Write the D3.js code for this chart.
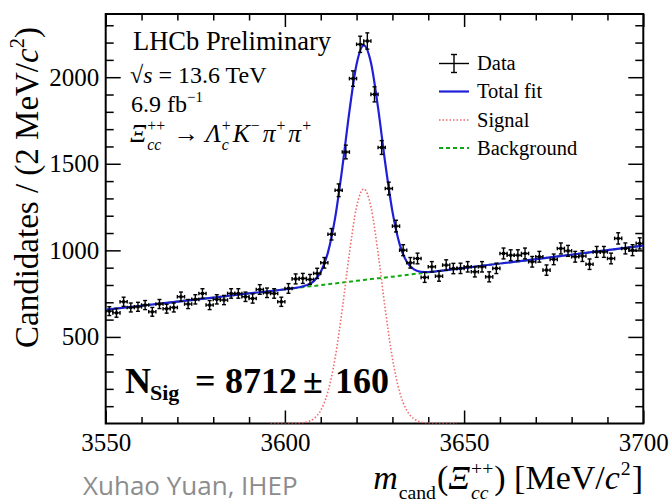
<!DOCTYPE html>
<html>
<head>
<meta charset="utf-8">
<script src="https://cdn.jsdelivr.net/npm/d3@7"></script>
<style>
  body { margin: 0; background: #fff; }
  svg { display: block; }
  svg text { white-space: pre; }
</style>
</head>
<body>
<svg id="chart" width="672" height="502"></svg>
<script>
// ---- data ----
const X_RANGE = [3550, 3700];
const Y_RANGE = [0, 2365];
const BIN_WIDTH = 2;
const binCentres = d3.range(X_RANGE[0] + BIN_WIDTH / 2, X_RANGE[1], BIN_WIDTH);

// candidates per 2 MeV bin
const counts = [
   649,  639,  703,  670,  674,  684,  645,  690,  663,  670,
   732,  690,  717,  751,  684,  717,  713,  751,  751,  732,
   722,  774,  755,  751,  703,  780,  835,  838,  832,  867,
   928, 1093, 1347, 1568, 1992, 2190, 2209, 1901, 1594, 1357,
  1140, 1001,  928,  953,  844,  905,  851,  915,  895,  896,
   905,  876,  905,  847,  896,  982,  972,  972,  982,  934,
   963,  886,  948, 1011,  997,  963,  967,  920,  991,  991,
   953, 1069, 1011, 1001, 1040
];

// fit components, sampled along the mass axis
const fitMass = [3550, 3560, 3570, 3580, 3590, 3596, 3600, 3602, 3604, 3606,
                 3608, 3610, 3612, 3614, 3616, 3618, 3620, 3622, 3624, 3626,
                 3628, 3630, 3632, 3634, 3636, 3638, 3640, 3642, 3644, 3648,
                 3656, 3665, 3675, 3685, 3700];
const backgroundFit = [657, 680, 704, 727, 751, 765, 775, 780, 785, 790,
                       794, 799, 804, 809, 814, 819, 824, 829, 834, 839,
                       843, 848, 853, 858, 863, 868, 873, 878, 883, 893,
                       914, 936, 962, 988, 1027];
const signalFit = [0, 0, 0, 0, 0, 0, 0, 0, 2, 8,
                   27, 76, 183, 377, 660, 984, 1251, 1355, 1251, 984,
                   660, 377, 183, 76, 27, 8, 2, 0, 0, 0,
                   0, 0, 0, 0, 0];

const xMajor = [3550, 3600, 3650, 3700];
const yMajor = [500, 1000, 1500, 2000];
const legendLabels = ['Data', 'Total fit', 'Signal', 'Background'];

// ---- drawing ----
const SERIF = '"Liberation Serif", "Times New Roman", serif';
const COLORS = { total: '#1f1fd8', signal: '#f06a6a', background: '#10a810' };
const plot = { left: 105.7, right: 643.3, top: 14, bottom: 423.5 };

const svg = d3.select('#chart');
const x = d3.scaleLinear().domain(X_RANGE).range([plot.left, plot.right]);
const y = d3.scaleLinear().domain(Y_RANGE).range([plot.bottom, plot.top]);

/* lay out a run of text pieces (sub/superscripts, italics) left to right,
   measuring each piece so the next one starts where it ended */
function richText(parent, runs, o) {
  const g = parent.append('g').attr('transform', o.transform);
  const inner = g.append('g');
  const scriptScale = o.scriptScale || 0.62;
  let cursor = 0, lastStart = 0;
  runs.forEach(r => {
    const small = r.sub || r.sup;
    const size = r.size || o.size * (small ? scriptScale : 1);
    const dy = r.dy !== undefined ? r.dy
      : r.sub ? o.size * (o.subShift || 0.3)
      : r.sup ? -o.size * (o.supShift || 0.42) : 0;
    const start = r.at !== undefined ? r.at : r.stack ? lastStart : cursor + (r.gap || 0);
    const t = inner.append('text')
      .attr('x', start).attr('y', dy)
      .attr('font-family', o.family || SERIF)
      .attr('font-size', size)
      .attr('font-style', r.it ? 'italic' : null)
      .attr('font-weight', o.weight || null)
      .attr('fill', o.fill || '#000')
      .text(r.t);
    const w = t.node().getComputedTextLength();
    if (r.stack) cursor = Math.max(cursor, start + w);
    else { lastStart = start; cursor = start + w; }
  });
  if (o.anchor === 'end') inner.attr('transform', `translate(${-cursor},0)`);
  return g;
}

svg.append('clipPath').attr('id', 'frame-clip')
  .append('rect')
  .attr('x', plot.left).attr('y', plot.top)
  .attr('width', plot.right - plot.left).attr('height', plot.bottom - plot.top);

// axes: ticks point inwards on all four sides
function styleAxis(g) {
  g.select('.domain').remove();
  g.selectAll('line').attr('stroke', '#000').attr('stroke-width', 1.5);
  g.selectAll('text').attr('font-family', SERIF).attr('font-size', 25).attr('fill', '#000');
}
const xMinor = d3.range(3560, 3700, 10).filter(v => v % 50 !== 0);
const yMinor = d3.range(100, Y_RANGE[1], 100).filter(v => v % 500 !== 0);

svg.append('g').attr('transform', `translate(0,${plot.bottom})`)
  .call(d3.axisBottom(x).tickValues(xMajor).tickSize(-13).tickPadding(10).tickFormat(d3.format('d')))
  .call(styleAxis);
svg.append('g').attr('transform', `translate(0,${plot.bottom})`)
  .call(d3.axisBottom(x).tickValues(xMinor).tickSize(-6.5).tickFormat(''))
  .call(styleAxis);
svg.append('g').attr('transform', `translate(0,${plot.top})`)
  .call(d3.axisTop(x).tickValues(xMajor).tickSize(-13).tickFormat(''))
  .call(styleAxis);
svg.append('g').attr('transform', `translate(0,${plot.top})`)
  .call(d3.axisTop(x).tickValues(xMinor).tickSize(-6.5).tickFormat(''))
  .call(styleAxis);
svg.append('g').attr('transform', `translate(${plot.left},0)`)
  .call(d3.axisLeft(y).tickValues(yMajor).tickSize(-15).tickPadding(6.5).tickFormat(d3.format('d')))
  .call(styleAxis);
svg.append('g').attr('transform', `translate(${plot.left},0)`)
  .call(d3.axisLeft(y).tickValues(yMinor).tickSize(-8).tickFormat(''))
  .call(styleAxis);
svg.append('g').attr('transform', `translate(${plot.right},0)`)
  .call(d3.axisRight(y).tickValues(yMajor).tickSize(-15).tickFormat(''))
  .call(styleAxis);
svg.append('g').attr('transform', `translate(${plot.right},0)`)
  .call(d3.axisRight(y).tickValues(yMinor).tickSize(-8).tickFormat(''))
  .call(styleAxis);

svg.append('rect')
  .attr('x', plot.left).attr('y', plot.top)
  .attr('width', plot.right - plot.left).attr('height', plot.bottom - plot.top)
  .attr('fill', 'none').attr('stroke', '#000').attr('stroke-width', 2);

// fit curves
const curves = svg.append('g').attr('clip-path', 'url(#frame-clip)');
const line = d3.line().x(d => x(d[0])).y(d => y(d[1])).curve(d3.curveMonotoneX);
const bgPts = fitMass.map((m, i) => [m, backgroundFit[i]]);
const sigPts = fitMass.map((m, i) => [m, signalFit[i]]).filter(d => d[0] >= 3596 && d[0] <= 3648);
const totalPts = fitMass.map((m, i) => [m, backgroundFit[i] + signalFit[i]]);

curves.append('path').attr('d', line(bgPts))
  .attr('fill', 'none').attr('stroke', COLORS.background)
  .attr('stroke-width', 2).attr('stroke-dasharray', '4,3');
curves.append('path').attr('d', line(sigPts))
  .attr('fill', 'none').attr('stroke', COLORS.signal)
  .attr('stroke-width', 1.6).attr('stroke-dasharray', '1.5,2');
curves.append('path').attr('d', line(totalPts))
  .attr('fill', 'none').attr('stroke', COLORS.total).attr('stroke-width', 2.2);

// data points with poisson error bars
const points = svg.append('g').attr('stroke', '#000').attr('stroke-width', 1.4);
binCentres.forEach((m, i) => {
  const v = counts[i], e = Math.sqrt(v);
  const cx = x(m), cy = y(v);
  const g = points.append('g');
  g.append('line').attr('x1', cx).attr('x2', cx).attr('y1', y(v - e)).attr('y2', y(v + e));
  g.append('line').attr('x1', x(m - BIN_WIDTH / 2)).attr('x2', x(m + BIN_WIDTH / 2)).attr('y1', cy).attr('y2', cy);
  [v - e, v + e].forEach(yy => g.append('line')
    .attr('x1', cx - 2).attr('x2', cx + 2).attr('y1', y(yy)).attr('y2', y(yy)));
  [m - BIN_WIDTH / 2, m + BIN_WIDTH / 2].forEach(xx => g.append('line')
    .attr('x1', x(xx)).attr('x2', x(xx)).attr('y1', cy - 1.8).attr('y2', cy + 1.8));
  g.append('rect').attr('x', cx - 1.5).attr('y', cy - 1.5).attr('width', 3).attr('height', 3)
    .attr('fill', '#000').attr('stroke', 'none');
});

// legend
const legend = svg.append('g');
const legendY = [70, 98, 126.5, 154.5];
legendLabels.forEach((label, i) => {
  const ly = legendY[i] - 6.5;
  if (i === 0) {
    const g = legend.append('g').attr('stroke', '#000').attr('stroke-width', 1.4);
    g.append('line').attr('x1', 439).attr('x2', 469).attr('y1', ly).attr('y2', ly);
    g.append('line').attr('x1', 454).attr('x2', 454).attr('y1', ly - 9).attr('y2', ly + 9);
    g.append('line').attr('x1', 451).attr('x2', 457).attr('y1', ly - 9).attr('y2', ly - 9);
    g.append('line').attr('x1', 451).attr('x2', 457).attr('y1', ly + 9).attr('y2', ly + 9);
  } else {
    const key = ['total', 'signal', 'background'][i - 1];
    legend.append('line').attr('x1', 439).attr('x2', 469).attr('y1', ly).attr('y2', ly)
      .attr('stroke', COLORS[key])
      .attr('stroke-width', key === 'total' ? 2.2 : key === 'signal' ? 1.6 : 2)
      .attr('stroke-dasharray', key === 'signal' ? '1.5,2' : key === 'background' ? '4,3' : null);
  }
  legend.append('text').attr('x', 477).attr('y', legendY[i])
    .attr('font-family', SERIF).attr('font-size', 20.5).text(label);
});

// labels in the upper left
richText(svg, [{ t: 'LHCb Preliminary' }], { transform: 'translate(133,50)', size: 26.5 });
richText(svg, [{ t: '√' }, { t: 's', it: true }, { t: ' = 13.6 TeV' }],
  { transform: 'translate(130,83)', size: 24 });
richText(svg, [{ t: '6.9 fb' }, { t: '−1', sup: true }],
  { transform: 'translate(131,112)', size: 24 });
richText(svg, [
  { t: 'Ξ', it: true }, { t: 'cc', it: true, sub: true, gap: 1 }, { t: '++', sup: true, stack: true },
  { t: ' → ', gap: 2 },
  { t: 'Λ', it: true }, { t: 'c', it: true, sub: true, gap: 1 }, { t: '+', sup: true, stack: true },
  { t: 'K', it: true, gap: 2 }, { t: '−', sup: true, gap: 1 },
  { t: 'π', it: true, gap: 3 }, { t: '+', sup: true, gap: 1 },
  { t: 'π', it: true, gap: 3 }, { t: '+', sup: true, gap: 1 }
], { transform: 'translate(130,142)', size: 25.5, scriptScale: 0.62 });

// signal yield
richText(svg, [
  { t: 'N', at: 125 }, { t: 'Sig', size: 22, dy: 7, at: 150 },
  { t: '=', at: 195 }, { t: '8712', at: 225 }, { t: '±', at: 303 }, { t: '160', at: 335 }
], { transform: 'translate(0,393)', size: 36, weight: 'bold' });

// axis titles
richText(svg, [{ t: 'Candidates / (2 MeV/' }, { t: 'c', it: true }, { t: '2', sup: true }, { t: ')' }],
  { transform: 'translate(38,348) rotate(-90)', size: 33 });
richText(svg, [
  { t: 'm', it: true }, { t: 'cand', sub: true, gap: 1 },
  { t: '(', gap: 1 }, { t: 'Ξ', it: true }, { t: 'cc', it: true, sub: true, gap: 1 },
  { t: '++', sup: true, stack: true },
  { t: ') [MeV/', gap: 1 }, { t: 'c', it: true }, { t: '2', sup: true, gap: 1 }, { t: ']', gap: 1 }
], { transform: 'translate(643,489)', size: 34, anchor: 'end',
     scriptScale: 0.58, subShift: 0.3, supShift: 0.4 });

// presenter credit
svg.append('text').attr('x', 83).attr('y', 495)
  .attr('font-family', '"Open Sans", "Noto Sans", sans-serif')
  .attr('font-size', 26).attr('fill', '#8c8c8c')
  .text('Xuhao Yuan, IHEP');
</script>
</body>
</html>
